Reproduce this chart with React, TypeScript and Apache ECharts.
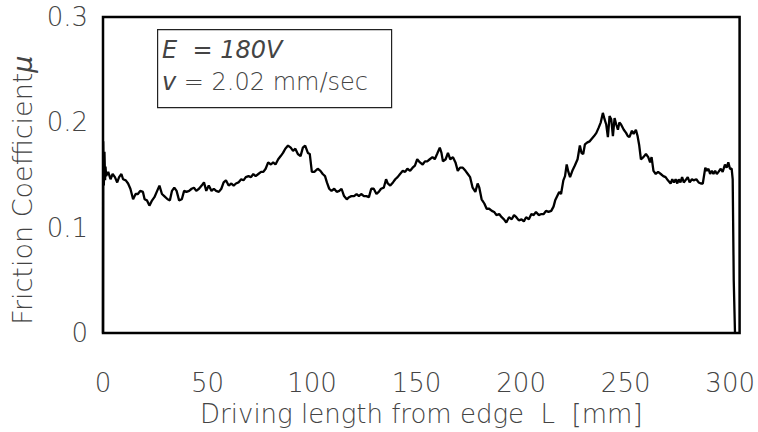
import React, { useEffect, useRef } from "react";
import * as echarts from "echarts";

// Driving length L [mm]
const lengthMm: number[] = [
  0, 0.1, 0.4, 0.7, 1.0, 1.2,
  1.5, 2.5, 3.6, 4.6, 5.7, 6.8, 7.7, 8.8, 9.6, 10.9, 12.0, 13.1, 14.4, 15.6, 16.7, 17.8, 19.1, 19.9,
  21.0, 22.2, 23.5, 24.6, 25.7, 27.0, 28.2, 29.3, 30.9, 32.0, 33.0, 34.1, 35.2, 36.4, 37.7, 38.8, 39.9,
  41.2, 42.4, 43.5, 44.6, 45.9, 47.2, 48.3, 49.4, 50.6, 51.9, 53.0, 54.1, 55.4, 56.6, 57.7, 58.8, 60.1,
  61.4, 62.5, 63.6, 64.8, 66.1, 67.2, 68.3, 69.6, 70.8, 71.9, 73.0, 74.3, 75.6, 76.7, 77.8, 79.0, 80.3,
  81.4, 82.5, 83.8, 85.0, 86.1, 87.2, 88.5, 89.8, 90.9, 92.0, 93.2, 94.5, 95.6, 96.7, 98.0, 98.9, 99.9,
  101.1, 102.7, 104.0, 105.1, 106.2, 107.1, 108.2, 109.3, 110.6, 111.8, 113.0, 114.1, 115.3, 116.6,
  117.7, 118.8, 120.1, 121.3, 122.4, 123.5, 124.8, 126.0, 127.2, 128.3, 129.5, 130.8, 131.9, 133.0,
  134.3, 135.4, 136.2, 137.4, 138.7, 139.8, 140.9, 142.1, 143.4, 144.5, 145.6, 146.9, 148.1, 149.2,
  150.3, 151.6, 152.9, 154.0, 155.1, 156.3, 157.6, 158.7, 159.8, 161.1, 161.9, 162.6, 163.9, 165.0,
  166.1, 167.4, 168.6, 169.7, 170.8, 172.1, 173.4, 174.5, 175.6, 176.8, 178.1, 179.2, 180.0, 181.1,
  182.4, 183.5, 184.7, 186.0, 187.1, 188.2, 189.5, 190.7, 191.8, 192.9, 194.2, 195.5, 196.6, 197.7,
  198.9, 200.2, 201.3, 202.4, 203.7, 204.9, 206.0, 207.1, 208.4, 209.7, 210.8, 211.9, 213.1, 214.4,
  215.5, 216.3, 218.2, 219.1, 220.2, 221.0, 221.8, 222.6, 223.4, 224.5, 225.7, 227.0, 228.1, 228.9,
  229.7, 230.5, 231.7, 232.8, 233.6, 234.9, 236.0, 237.1, 238.1, 239.1, 239.9, 240.7, 241.5, 242.3,
  243.1, 243.9, 244.7, 245.5, 246.3, 247.0, 247.8, 249.1, 250.2, 251.0, 251.8, 253.0, 253.8, 254.9,
  255.7, 256.5, 257.3, 258.5, 259.7, 260.8, 261.7, 262.4, 263.3, 264.4, 265.5, 266.8, 268.0, 269.1,
  270.2, 271.5, 272.3, 273.1, 273.9, 274.7, 275.4, 276.2, 277.0, 277.8, 278.6, 279.7, 280.6, 281.7,
  282.5, 283.8, 284.9, 286.0, 286.9, 288.1, 288.8, 289.6, 290.4, 291.2, 292.0, 292.8, 293.6, 294.4,
  295.5, 296.4, 297.5, 298.3, 299.1, 299.9, 300.7, 301.2, 301.7, 302.3,
];

// Friction coefficient μ
const friction: number[] = [
  0, 0.182, 0.14, 0.172, 0.145, 0.158,
  0.149, 0.153, 0.146, 0.151, 0.148, 0.143, 0.148, 0.151, 0.146, 0.145, 0.142, 0.137, 0.127, 0.132,
  0.132, 0.135, 0.134, 0.127, 0.126, 0.121, 0.126, 0.129, 0.134, 0.14, 0.132, 0.13, 0.127, 0.126, 0.135,
  0.138, 0.135, 0.126, 0.127, 0.135, 0.134, 0.135, 0.137, 0.138, 0.135, 0.137, 0.14, 0.143, 0.135, 0.14,
  0.135, 0.137, 0.135, 0.134, 0.137, 0.143, 0.145, 0.14, 0.142, 0.14, 0.142, 0.143, 0.146, 0.145, 0.148,
  0.149, 0.148, 0.151, 0.149, 0.151, 0.153, 0.153, 0.156, 0.162, 0.16, 0.162, 0.16, 0.165, 0.168, 0.171,
  0.175, 0.178, 0.176, 0.173, 0.175, 0.17, 0.168, 0.176, 0.178, 0.171, 0.17, 0.153,
  0.153, 0.156, 0.154, 0.151, 0.149, 0.143, 0.137, 0.135, 0.137, 0.134, 0.135, 0.137, 0.13, 0.127,
  0.129, 0.13, 0.13, 0.132, 0.13, 0.132, 0.13, 0.13, 0.129, 0.137, 0.137, 0.132, 0.134, 0.137,
  0.138, 0.146, 0.142, 0.14, 0.143, 0.146, 0.148, 0.151, 0.154, 0.153, 0.156, 0.154, 0.157, 0.159,
  0.165, 0.162, 0.16, 0.163, 0.163, 0.165, 0.167, 0.165, 0.17, 0.176, 0.171, 0.163, 0.165, 0.171,
  0.165, 0.167, 0.162, 0.154, 0.157, 0.157, 0.154, 0.151, 0.148, 0.138, 0.134, 0.142, 0.138, 0.127,
  0.123, 0.118, 0.118, 0.116, 0.115, 0.112, 0.113, 0.11, 0.108, 0.105, 0.11, 0.108, 0.112, 0.11,
  0.107, 0.108, 0.106, 0.11, 0.108, 0.113, 0.112, 0.115, 0.112, 0.113, 0.113, 0.116, 0.115, 0.116,
  0.12, 0.126, 0.134, 0.132, 0.145, 0.149, 0.16, 0.153, 0.148, 0.154, 0.159, 0.165, 0.178, 0.171,
  0.17, 0.179, 0.181, 0.182, 0.184, 0.187, 0.19, 0.195, 0.2, 0.209, 0.203, 0.198, 0.186, 0.206,
  0.203, 0.187, 0.204, 0.198, 0.193, 0.2, 0.198, 0.193, 0.19, 0.187, 0.186, 0.192, 0.189, 0.193,
  0.187, 0.178, 0.165, 0.167, 0.17, 0.167, 0.162, 0.167, 0.154, 0.151, 0.153, 0.151, 0.149, 0.148,
  0.145, 0.142, 0.146, 0.143, 0.146, 0.142, 0.146, 0.143, 0.148, 0.143, 0.145, 0.148, 0.143, 0.146,
  0.145, 0.146, 0.143, 0.142, 0.142, 0.157, 0.154, 0.156, 0.151, 0.154, 0.151, 0.154, 0.151, 0.153,
  0.156, 0.153, 0.16, 0.157, 0.162, 0.156, 0.156, 0.146, 0.05, 0,
];

const xTicks: number[] = [0, 50, 100, 150, 200, 250, 300];
const yTicks: number[] = [0, 0.1, 0.2, 0.3];
const xTitle = "Driving length from edge  L  [mm]";
const yTitleMain = "Friction Coefficient";
const yTitleSymbol = "μ";
const noteLine1 = "E  = 180V";
const noteLine2Var = "v";
const noteLine2Rest = " = 2.02 mm/sec";

const FONT = "DejaVu Sans";
const ITALIC_FONT = "DejaVu Sans";
const TEXT_COLOR = "#444444";
const LIGHT = 200;

export default function App() {
  const ref = useRef<HTMLDivElement>(null);
  useEffect(() => {
    if (!ref.current) return;
    const chart = echarts.init(ref.current, undefined, { renderer: "svg" });
    const data = lengthMm.map((x, i) => [x, friction[i]]);
    chart.setOption({
      animation: false,
      backgroundColor: "#ffffff",
      grid: {
        left: 103,
        right: 12,
        top: 17,
        bottom: 97,
        show: true,
        borderColor: "#000",
        borderWidth: 2.5,
        backgroundColor: "transparent",
      },
      xAxis: {
        type: "value",
        min: 0,
        max: 304.5,
        interval: 50,
        name: xTitle,
        nameLocation: "middle",
        nameGap: 61,
        nameTextStyle: { fontFamily: FONT, fontSize: 26, fontWeight: LIGHT, color: TEXT_COLOR },
        axisLine: { show: false },
        axisTick: { show: false },
        splitLine: { show: false },
        axisLabel: {
          margin: 37,
          fontFamily: FONT,
          fontSize: 26,
          fontWeight: LIGHT,
          color: TEXT_COLOR,
          showMaxLabel: false,
          formatter: (v: number) => (xTicks.includes(v) ? String(v) : ""),
        },
      },
      yAxis: {
        type: "value",
        min: 0,
        max: 0.3,
        interval: 0.1,
        name: `{a|${yTitleMain}}{m|${yTitleSymbol}}`,
        nameLocation: "middle",
        nameRotate: 90,
        nameGap: 67,
        nameTextStyle: {
          fontFamily: FONT,
          fontSize: 27,
          fontWeight: LIGHT,
          color: TEXT_COLOR,
          padding: [0, 30, 0, 0],
          rich: {
            a: { fontFamily: FONT, fontSize: 27, fontWeight: LIGHT, color: TEXT_COLOR },
            m: { fontFamily: ITALIC_FONT, fontSize: 27, fontStyle: "italic", fontWeight: 300, color: TEXT_COLOR },
          },
        },
        axisLine: { show: false },
        axisTick: { show: false },
        splitLine: { show: false },
        axisLabel: {
          margin: 15,
          fontFamily: FONT,
          fontSize: 26,
          fontWeight: LIGHT,
          color: TEXT_COLOR,
          formatter: (v: number) => {
            const t = yTicks.find((y) => Math.abs(y - v) < 1e-9);
            return t === undefined ? "" : t === 0 ? "0" : t.toFixed(1);
          },
        },
      },
      graphic: [
        {
          type: "rect",
          left: 157,
          top: 29,
          shape: { width: 234, height: 78 },
          style: { fill: "#fff", stroke: "#222", lineWidth: 1.2 },
          z: 10,
        },
        {
          type: "text",
          left: 162,
          top: 38,
          z: 11,
          style: {
            text: noteLine1,
            fontFamily: ITALIC_FONT,
            fontSize: 24,
            fontStyle: "italic",
            fontWeight: 300,
            fill: TEXT_COLOR,
          },
        },
        {
          type: "text",
          left: 162,
          top: 70,
          z: 11,
          style: {
            text: `{i|${noteLine2Var}}{n|${noteLine2Rest}}`,
            rich: {
              i: { fontFamily: ITALIC_FONT, fontSize: 24, fontStyle: "italic", fontWeight: 300, fill: TEXT_COLOR } as any,
              n: { fontFamily: FONT, fontSize: 24, fontWeight: LIGHT, fill: TEXT_COLOR } as any,
            },
          },
        },
      ],
      series: [
        {
          type: "line",
          data,
          showSymbol: false,
          symbol: "none",
          lineStyle: { color: "#000", width: 2.3 },
          clip: false,
        },
      ],
    });
    return () => chart.dispose();
  }, []);
  return <div ref={ref} style={{ width: 758, height: 432, position: "absolute", left: 0, top: 0 }} />;
}
